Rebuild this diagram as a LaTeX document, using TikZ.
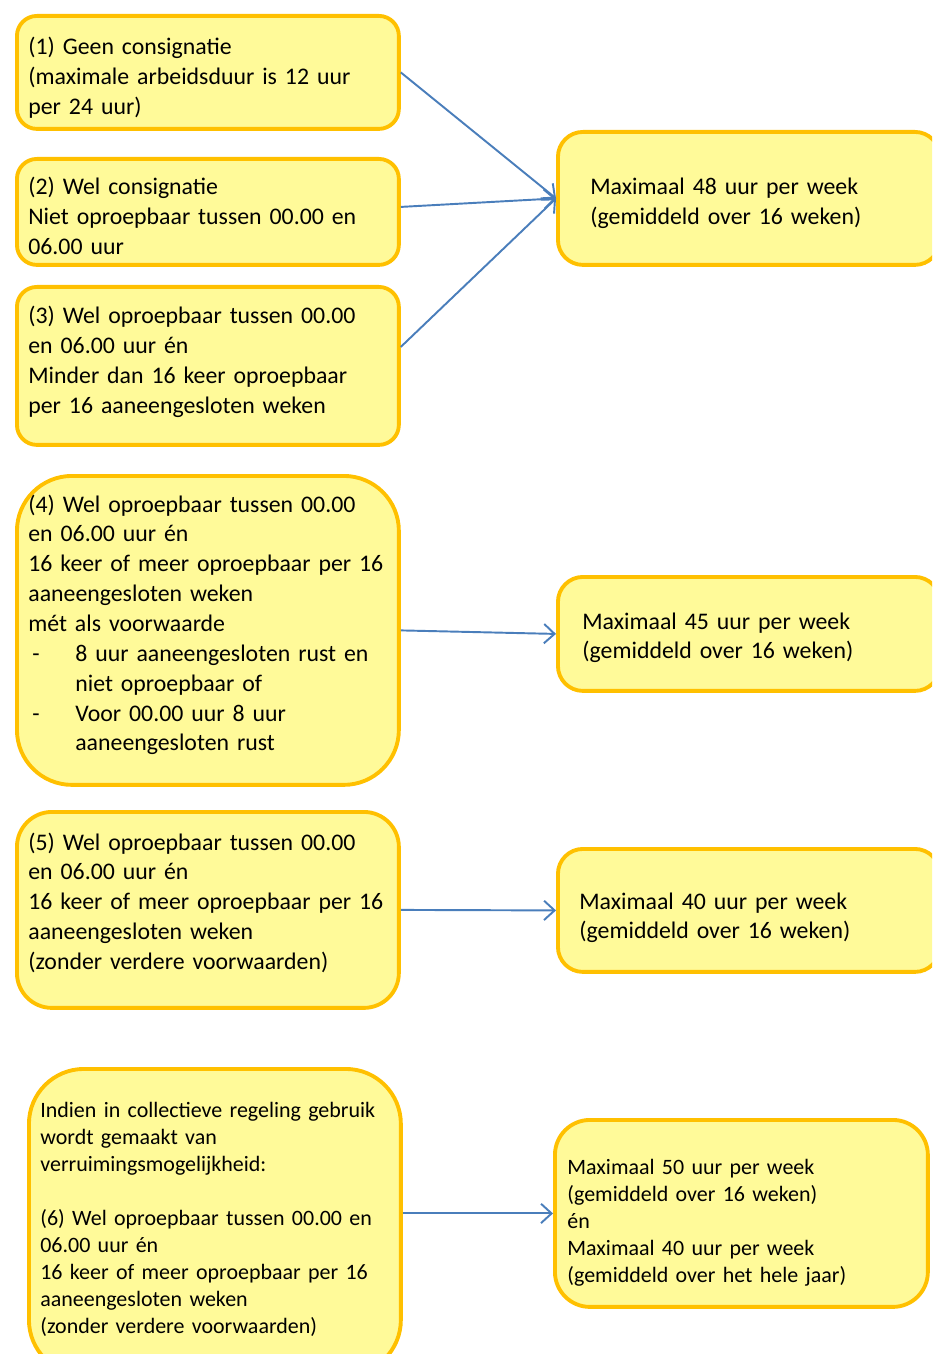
\documentclass[tikz,border=0pt]{standalone}
\usepackage{fontspec}
\setmainfont{Carlito}
\usetikzlibrary{arrows.meta}
\definecolor{geel}{HTML}{FFFA99}
\definecolor{oranje}{HTML}{FFC000}
\definecolor{blauw}{HTML}{4A7EBB}
\begin{document}
\begin{tikzpicture}[x=0.02cm,y=-0.02cm,
    vak/.style={draw=oranje,fill=geel,line width=2.2pt,rounded corners=0.4cm,
        anchor=north west,minimum width=7.64cm},
    tekst/.style={anchor=base west,align=left,inner sep=0pt,text width=9cm,
        font=\fontsize{13.55pt}{17pt}\selectfont},
    klein/.style={font=\fontsize{12.5pt}{15.4pt}\selectfont},
    pijl/.style={draw=blauw,line width=1.1pt,-{Straight Barb[length=6pt,width=11pt]}}]
    \useasboundingbox (0,0) rectangle (932,1354);
    \clip (0,0) rectangle (932,1354);
    % vakken links
    \node[vak,minimum height=2.26cm] (g1) at (15,14) {};
    \node[vak,minimum height=2.12cm] (g2) at (15,157) {};
    \node[vak,minimum height=3.16cm] (g3) at (15,285) {};
    \node[vak,minimum height=6.18cm,rounded corners=1.1cm] (g4) at (15,474) {};
    \node[vak,minimum height=3.92cm,rounded corners=0.7cm] (g5) at (15,810) {};
    \node[vak,minimum height=6.12cm,minimum width=7.44cm,rounded corners=1.1cm] (g6) at (27,1067) {};
    % vakken rechts
    \node[vak,minimum height=2.66cm,rounded corners=0.5cm] (m1) at (556,130) {};
    \node[vak,minimum height=2.28cm,rounded corners=0.5cm] (m2) at (556,575) {};
    \node[vak,minimum height=2.46cm,rounded corners=0.5cm] (m3) at (556,847) {};
    \node[vak,minimum height=3.74cm,minimum width=7.46cm,rounded corners=0.7cm] (m4) at (553,1118) {};
    % teksten
    \node[tekst] (t1) at (28,55) {(1) Geen consignatie\\(maximale arbeidsduur is 12 uur\\per 24 uur)};
    \node[tekst] (t2) at (28,195) {(2) Wel consignatie\\Niet oproepbaar tussen 00.00 en\\06.00 uur};
    \node[tekst] (t3) at (28,324) {(3) Wel oproepbaar tussen 00.00\\en 06.00 uur én\\Minder dan 16 keer oproepbaar\\per 16 aaneengesloten weken};
    \node[tekst] (t4) at (28,512) {(4) Wel oproepbaar tussen 00.00\\en 06.00 uur én\\16 keer of meer oproepbaar per 16\\aaneengesloten weken\\mét als voorwaarde\\
        \makebox[0.94cm][l]{\hspace{0.08cm}-}8 uur aaneengesloten rust en\\\hspace*{0.94cm}niet oproepbaar of\\
        \makebox[0.94cm][l]{\hspace{0.08cm}-}Voor 00.00 uur 8 uur\\\hspace*{0.94cm}aaneengesloten rust};
    \node[tekst] (t5) at (28,850) {(5) Wel oproepbaar tussen 00.00\\en 06.00 uur én\\16 keer of meer oproepbaar per 16\\aaneengesloten weken\\(zonder verdere voorwaarden)};
    \node[tekst,klein] (t6) at (40,1117) {Indien in collectieve regeling gebruik\\wordt gemaakt van\\verruimingsmogelijkheid:\\[15.4pt]
        (6) Wel oproepbaar tussen 00.00 en\\06.00 uur én\\16 keer of meer oproepbaar per 16\\aaneengesloten weken\\(zonder verdere voorwaarden)};
    \node[tekst] (s1) at (590,195) {Maximaal 48 uur per week\\(gemiddeld over 16 weken)};
    \node[tekst] (s2) at (582,629) {Maximaal 45 uur per week\\(gemiddeld over 16 weken)};
    \node[tekst] (s3) at (579,909) {Maximaal 40 uur per week\\(gemiddeld over 16 weken)};
    \node[tekst,klein] (s4) at (567,1174) {Maximaal 50 uur per week\\(gemiddeld over 16 weken)\\én\\Maximaal 40 uur per week\\(gemiddeld over het hele jaar)};
    % pijlen
    \draw[pijl] (g1.east) -- (m1.west);
    \draw[pijl] ([yshift=0.1cm]g2.east) -- (m1.west);
    \draw[pijl] ([yshift=0.38cm]g3.east) -- (m1.west);
    \draw[pijl] (g4.east) -- (m2.west);
    \draw[pijl] (g5.east) -- (m3.west);
    \draw[pijl] (g6.east |- m4.west) -- (m4.west);
\end{tikzpicture}
\end{document}
